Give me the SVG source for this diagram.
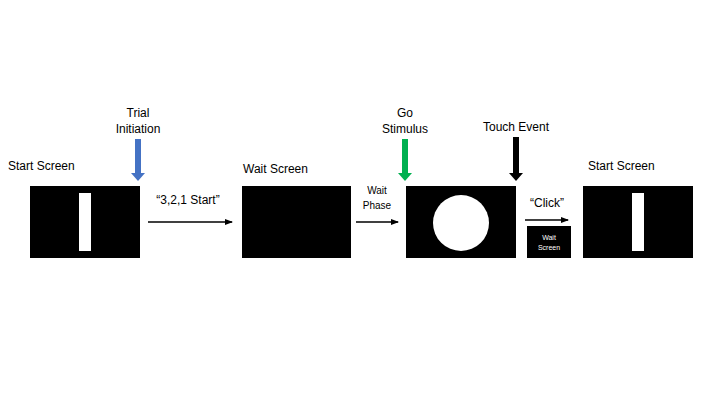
<svg xmlns="http://www.w3.org/2000/svg" width="720" height="405" viewBox="0 0 720 405">
<style>
text{font-family:"Liberation Sans",Arial,sans-serif;fill:#000}
.lbl{font-size:12px}
.sm{font-size:10px}
.scr{fill:#000}
.w{fill:#fff}
.conn{stroke:#000;stroke-width:1.5;fill:none}
</style>
<defs>
<marker id="ah" markerWidth="8" markerHeight="6" refX="7" refY="3" orient="auto" markerUnits="userSpaceOnUse">
<path d="M0,0 L8,3 L0,6 Z" fill="#000"/>
</marker>
</defs>
<rect width="720" height="405" fill="#fff"/>
<g id="start1">
<text class="lbl" x="8" y="170">Start Screen</text>
<rect class="scr" x="30" y="186" width="110" height="72"/>
<rect class="w" x="79" y="193" width="12" height="58"/>
</g>
<g id="wait">
<text class="lbl" x="243" y="173">Wait Screen</text>
<rect class="scr" x="242" y="186" width="109" height="72"/>
</g>
<g id="go">
<rect class="scr" x="406" y="186" width="110" height="72"/>
<circle class="w" cx="461" cy="223" r="28"/>
</g>
<g id="waitsmall">
<rect class="scr" x="527" y="226" width="44" height="32"/>
<text x="549" y="240" font-size="7" text-anchor="middle" style="fill:#fff">Wait</text>
<text x="549" y="250" font-size="7" text-anchor="middle" style="fill:#fff">Screen</text>
</g>
<g id="start2">
<text class="lbl" x="588" y="170">Start Screen</text>
<rect class="scr" x="583" y="186" width="110" height="72"/>
<rect class="w" x="632" y="193" width="12" height="58"/>
</g>
<g id="trial">
<text class="lbl" x="138" y="117" text-anchor="middle">Trial</text>
<text class="lbl" x="138" y="133" text-anchor="middle">Initiation</text>
<path d="M135,139 H141 V173 H145 L138,181 L131,173 H135 Z" fill="#4472C4"/>
</g>
<g id="gostim">
<text class="lbl" x="405" y="117" text-anchor="middle">Go</text>
<text class="lbl" x="405" y="133" text-anchor="middle">Stimulus</text>
<path d="M402,139 H408 V173 H412 L405,181 L398,173 H402 Z" fill="#00B050"/>
</g>
<g id="touch">
<text class="lbl" x="516" y="131" text-anchor="middle">Touch Event</text>
<path d="M513,137 H519 V173 H523 L516,181 L509,173 H513 Z" fill="#000"/>
</g>
<g id="connectors">
<line class="conn" x1="148" y1="222" x2="232" y2="222" marker-end="url(#ah)"/>
<text class="lbl" x="188" y="204" text-anchor="middle">“3,2,1 Start”</text>
<line class="conn" x1="356" y1="222" x2="398" y2="222" marker-end="url(#ah)"/>
<text class="sm" x="377" y="194" text-anchor="middle">Wait</text>
<text class="sm" x="377" y="209" text-anchor="middle">Phase</text>
<line class="conn" x1="525" y1="220" x2="568" y2="220" marker-end="url(#ah)"/>
<text class="lbl" x="547" y="207" text-anchor="middle">“Click”</text>
</g>
</svg>
